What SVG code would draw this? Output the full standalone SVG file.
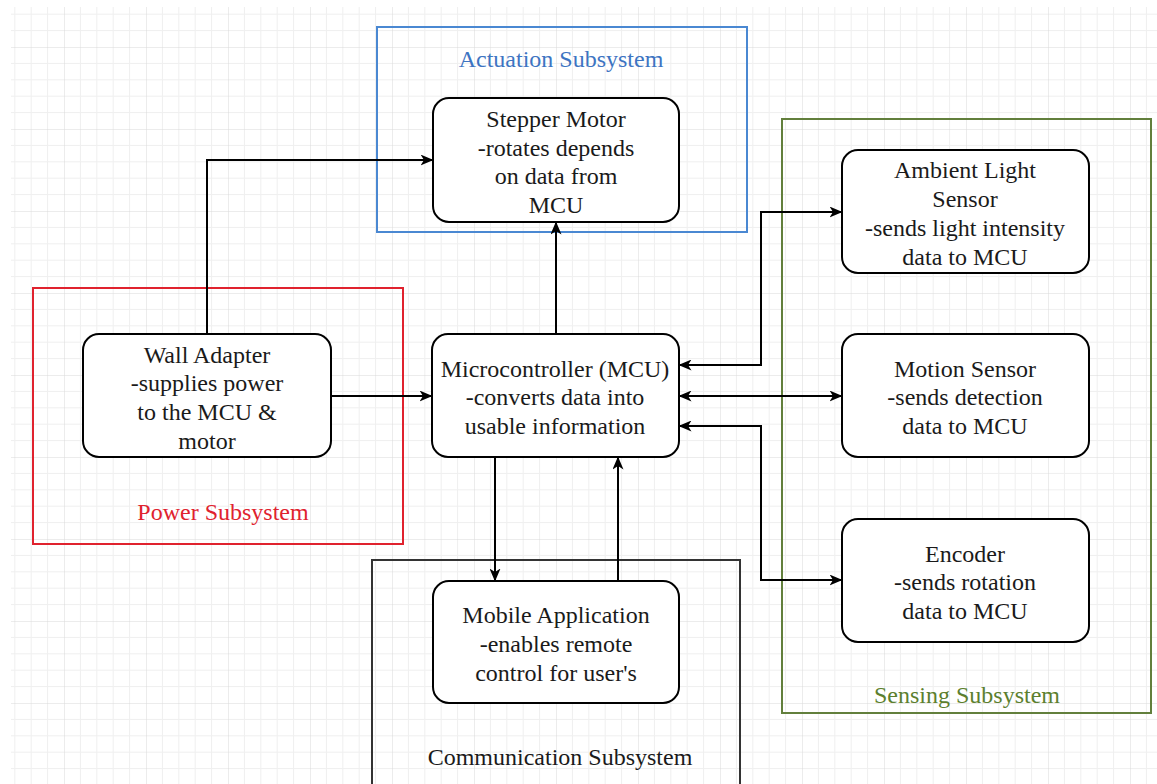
<svg xmlns="http://www.w3.org/2000/svg" width="1157" height="784" viewBox="0 0 1157 784">
  <defs>
    <!-- Drawing-canvas grid: minor cells 16.4 px, major every 82 px -->
    <pattern id="grid" x="-18" y="-35" width="82" height="82" patternUnits="userSpaceOnUse">
      <path d="M16.4 0V82M32.8 0V82M49.2 0V82M65.6 0V82M0 16.4H82M0 32.8H82M0 49.2H82M0 65.6H82" fill="none" stroke="#efefef" stroke-width="1"/>
      <path d="M0 0V82M0 0H82" fill="none" stroke="#d9d9d9" stroke-width="1"/>
    </pattern>
    <marker id="arrow" viewBox="0 0 13 11" refX="12.5" refY="5.5" markerWidth="13" markerHeight="11" orient="auto-start-reverse" markerUnits="userSpaceOnUse">
      <path d="M0 0L13 5.5L0 11L3.5 5.5Z" fill="#000"/>
    </marker>
    <style>
      .blk rect { fill: #fff; stroke: #000; stroke-width: 2; }
      .blk text, .frame text { font-family: "Liberation Serif", "Times New Roman", serif; font-size: 24px; text-anchor: middle; }
      .blk text { fill: #1a1a1a; }
      .frame rect { fill: none; stroke-width: 2; }
      .edges path { fill: none; stroke: #000; stroke-width: 2; }
    </style>
  </defs>

  <rect width="1157" height="784" fill="#fff"/>
  <rect x="11" y="7" width="1146" height="777" fill="url(#grid)"/>

  <!-- Subsystem frames -->
  <g id="actuation-subsystem" class="frame">
    <rect x="377" y="27" width="370" height="205" stroke="#4a88d2"/>
    <text x="561" y="67" fill="#3d74c2">Actuation Subsystem</text>
  </g>
  <g id="power-subsystem" class="frame">
    <rect x="33" y="288" width="370" height="256" stroke="#e0222e"/>
    <text x="223" y="520" fill="#e0222e">Power Subsystem</text>
  </g>
  <g id="sensing-subsystem" class="frame">
    <rect x="782" y="119" width="369" height="594" stroke="#627f3c"/>
    <text x="967" y="703" fill="#5c7f2e">Sensing Subsystem</text>
  </g>
  <g id="communication-subsystem" class="frame">
    <rect x="372" y="560" width="368" height="240" stroke="#333"/>
    <text x="560" y="765" fill="#1a1a1a">Communication Subsystem</text>
  </g>

  <!-- Connectors -->
  <g id="connectors" class="edges">
    <path d="M207 334V160H433" marker-end="url(#arrow)"/>
    <path d="M331 396H432" marker-end="url(#arrow)"/>
    <path d="M556 334V222" marker-end="url(#arrow)"/>
    <path d="M679 365H761V212H842" marker-start="url(#arrow)" marker-end="url(#arrow)"/>
    <path d="M679 396H842" marker-start="url(#arrow)" marker-end="url(#arrow)"/>
    <path d="M679 426H761V580H842" marker-start="url(#arrow)" marker-end="url(#arrow)"/>
    <path d="M495 457V581" marker-end="url(#arrow)"/>
    <path d="M618 581V457" marker-end="url(#arrow)"/>
  </g>

  <!-- Blocks -->
  <g id="stepper-motor" class="blk">
    <rect x="433" y="98" width="246" height="124" rx="16"/>
    <text x="556" y="127">Stepper Motor</text>
    <text x="556" y="156">-rotates depends</text>
    <text x="556" y="184">on data from</text>
    <text x="556" y="213">MCU</text>
  </g>
  <g id="wall-adapter" class="blk">
    <rect x="83" y="334" width="248" height="123" rx="16"/>
    <text x="207" y="363">Wall Adapter</text>
    <text x="207" y="391">-supplies power</text>
    <text x="207" y="420">to the MCU &amp;</text>
    <text x="207" y="449">motor</text>
  </g>
  <g id="microcontroller" class="blk">
    <rect x="432" y="334" width="247" height="123" rx="16"/>
    <text x="555" y="377">Microcontroller (MCU)</text>
    <text x="555" y="405">-converts data into</text>
    <text x="555" y="434">usable information</text>
  </g>
  <g id="ambient-light-sensor" class="blk">
    <rect x="842" y="150" width="247" height="123" rx="16"/>
    <text x="965" y="178">Ambient Light</text>
    <text x="965" y="207">Sensor</text>
    <text x="965" y="236">-sends light intensity</text>
    <text x="965" y="265">data to MCU</text>
  </g>
  <g id="motion-sensor" class="blk">
    <rect x="842" y="334" width="247" height="123" rx="16"/>
    <text x="965" y="377">Motion Sensor</text>
    <text x="965" y="405">-sends detection</text>
    <text x="965" y="434">data to MCU</text>
  </g>
  <g id="encoder" class="blk">
    <rect x="842" y="519" width="247" height="123" rx="16"/>
    <text x="965" y="562">Encoder</text>
    <text x="965" y="590">-sends rotation</text>
    <text x="965" y="619">data to MCU</text>
  </g>
  <g id="mobile-application" class="blk">
    <rect x="433" y="581" width="246" height="122" rx="16"/>
    <text x="556" y="623">Mobile Application</text>
    <text x="556" y="652">-enables remote</text>
    <text x="556" y="681">control for user's</text>
  </g>
</svg>
